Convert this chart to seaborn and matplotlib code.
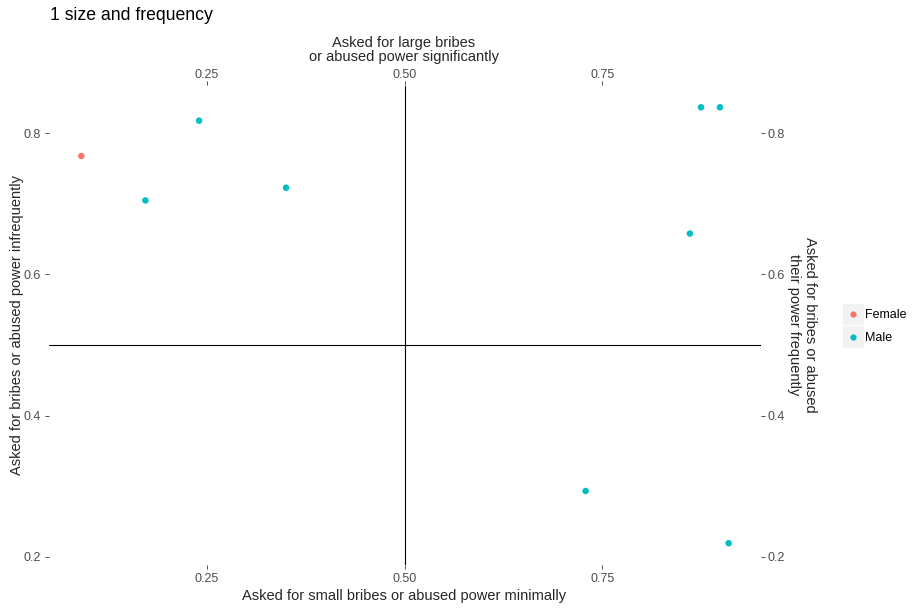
import matplotlib
matplotlib.use("Agg")
import matplotlib.pyplot as plt
import seaborn as sns
import pandas as pd
from matplotlib.patches import Rectangle
from matplotlib.lines import Line2D

# ---- data ----
gender = ["Female", "Male", "Male", "Male", "Male", "Male", "Male", "Male", "Male"]
x_small_large = [0.091, 0.240, 0.172, 0.350, 0.875, 0.899, 0.861, 0.729, 0.910]
y_infreq_freq = [0.768, 0.818, 0.705, 0.723, 0.837, 0.837, 0.658, 0.293, 0.219]
x_ticks = [0.25, 0.50, 0.75]
x_ticklabels = ["0.25", "0.50", "0.75"]
y_ticks = [0.2, 0.4, 0.6, 0.8]
y_ticklabels = ["0.2", "0.4", "0.6", "0.8"]
legend_levels = ["Female", "Male"]
palette = {"Female": "#F8766D", "Male": "#00BFC4"}

df = pd.DataFrame({"x": x_small_large, "y": y_infreq_freq, "gender": gender})

sns.set_theme(style="white")
plt.rcParams["font.family"] = ["Liberation Sans", "DejaVu Sans"]

W, H = 921, 611
fig = plt.figure(figsize=(W / 100, H / 100), dpi=100)

def fx(px):
    return px / W

def fy(py):
    return 1 - py / H

left, right, top, bottom = 49, 761, 85.5, 565
ax = fig.add_axes([fx(left), fy(bottom), fx(right) - fx(left), fy(top) - fy(bottom)])

sns.scatterplot(data=df, x="x", y="y", hue="gender", palette=palette,
                hue_order=legend_levels, s=22, linewidth=0, ax=ax, legend=False, zorder=3)

# ggplot-like 5% expansion
xr = max(x_small_large) - min(x_small_large)
yr = max(y_infreq_freq) - min(y_infreq_freq)
ax.set_xlim(min(x_small_large) - 0.05 * xr, max(x_small_large) + 0.05 * xr)
ax.set_ylim(min(y_infreq_freq) - 0.05 * yr, max(y_infreq_freq) + 0.05 * yr)

ax.axhline(0.5, color="black", lw=0.8, zorder=2)
ax.axvline(0.5, color="black", lw=0.8, zorder=2)

for s in ax.spines.values():
    s.set_visible(False)
ax.set_facecolor("white")
ax.grid(False)
ax.set_xlabel("")
ax.set_ylabel("")

tick_kw = dict(length=3, width=0.6, color="#333333", labelcolor="#4D4D4D", labelsize=9, pad=3)
ax.set_xticks(x_ticks)
ax.set_xticklabels(x_ticklabels)
ax.set_yticks(y_ticks)
ax.set_yticklabels(y_ticklabels)
ax.tick_params(axis="both", which="major", bottom=True, left=True, **tick_kw)

secx = ax.secondary_xaxis("top")
secx.set_xticks(x_ticks)
secx.set_xticklabels(x_ticklabels)
secx.tick_params(axis="x", length=3, width=0.6, color="#333333", labelcolor="#4D4D4D",
                 labelsize=9, pad=0.5)
secy = ax.secondary_yaxis("right")
secy.set_yticks(y_ticks)
secy.set_yticklabels(y_ticklabels)
secy.tick_params(axis="y", length=3, width=0.6, color="#333333", labelcolor="#4D4D4D",
                 labelsize=9, pad=2)
for a in (secx, secy):
    for s in a.spines.values():
        s.set_visible(False)

# titles
fig.text(fx(50), fy(16), "1 size and frequency", fontsize=12.7, color="black", ha="left", va="center")
fig.text(fx(404), fy(50), "Asked for large bribes\nor abused power significantly", fontsize=10.5,
         ha="center", va="center", linespacing=1.05)
fig.text(fx(404), fy(596), "Asked for small bribes or abused power minimally", fontsize=10.5,
         ha="center", va="center")
fig.text(fx(17), fy(325), "Asked for bribes or abused power infrequently", fontsize=10.5,
         ha="center", va="center", rotation=90)
fig.text(fx(802), fy(325), "Asked for bribes or abused\ntheir power frequently", fontsize=10.5,
         ha="center", va="center", rotation=270, linespacing=1.25)

# legend (ggplot style with grey key backgrounds)
key_x0, key_w, key_h = 842, 21.5, 22.5
key_y0 = [302.7, 325.3]
for lvl, ky in zip(legend_levels, key_y0):
    fig.add_artist(Rectangle((fx(key_x0), fy(ky + key_h)), key_w / W, key_h / H,
                             transform=fig.transFigure, facecolor="#F2F2F2", edgecolor="white", lw=0.8))
    fig.add_artist(Line2D([fx(key_x0 + key_w / 2)], [fy(ky + key_h / 2)], marker="o", markersize=4.5,
                          markeredgewidth=0, color=palette[lvl], transform=fig.transFigure, linestyle="none"))
    fig.text(fx(865), fy(ky + key_h / 2 + 1.5), lvl, fontsize=9, ha="left", va="center", color="black")

fig.savefig("out.png", dpi=100, facecolor="white")
